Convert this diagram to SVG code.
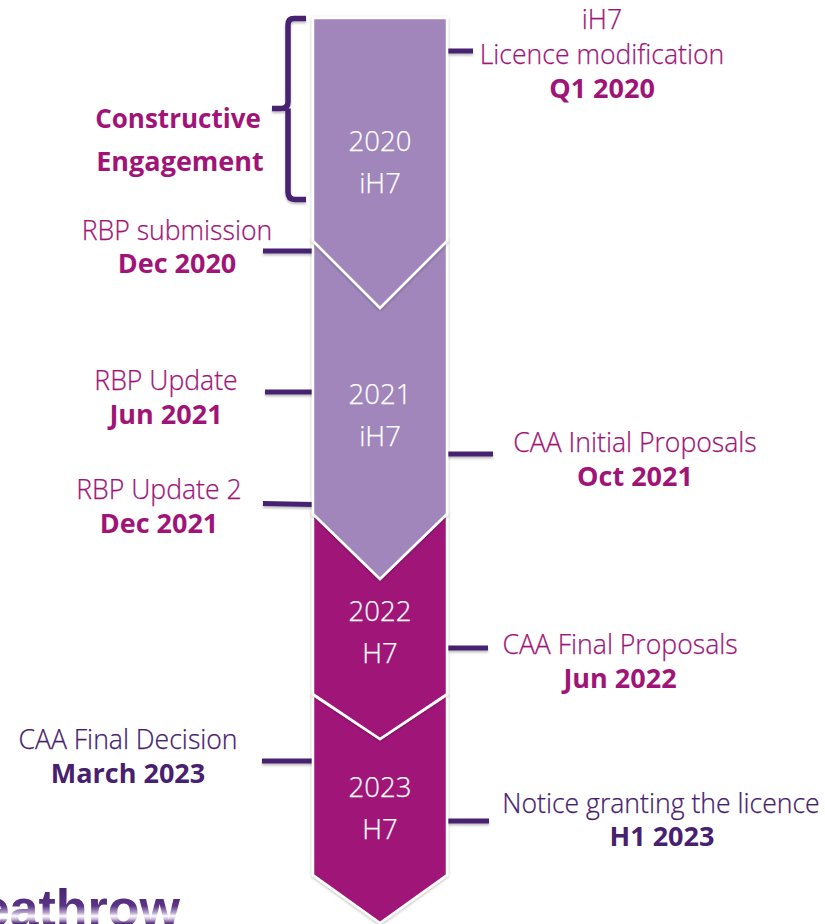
<svg xmlns="http://www.w3.org/2000/svg" width="825" height="924" viewBox="0 0 825 924">
<style>
text{font-family:"Open Sans","Noto Sans","Liberation Sans",sans-serif;text-anchor:middle}
.l{font-size:26.600px;font-weight:300;stroke-width:.25px}
.b{font-size:27px;font-weight:700}
.m{fill:#A01478}
.l.m{stroke:#A01478}
.d{fill:#47206F}
.l.d{stroke:#47206F}
.y{font-size:27.500px;font-weight:300;fill:#fff;stroke:#fff;stroke-width:.25px}
.c{fill:none;stroke:#47206F;stroke-width:5}
.s{stroke:#fff;stroke-width:2.5;stroke-linejoin:miter;filter:url(#sh)}
</style>
<defs>
<filter id="sh" x="-10%" y="-5%" width="120%" height="110%"><feDropShadow dx="0" dy="1" stdDeviation="1.5" flood-color="#000" flood-opacity=".3"/></filter>
<filter id="ls" x="-20%" y="-100%" width="140%" height="400%"><feDropShadow dx="0" dy="2" stdDeviation="1.2" flood-color="#000" flood-opacity=".25"/></filter>
<linearGradient id="lg" gradientUnits="userSpaceOnUse" x1="0" y1="884" x2="0" y2="924"><stop offset="0" stop-color="#47206F"/><stop offset=".55" stop-color="#5A3585"/><stop offset=".72" stop-color="#B8A4CE"/><stop offset=".8" stop-color="#fff"/><stop offset=".88" stop-color="#C9B8DA"/><stop offset="1" stop-color="#47206F"/></linearGradient>
</defs>
<rect width="825" height="924" fill="#fff"/>
<g id="connectors" filter="url(#ls)">
<path class="c" d="M448 51H473"/>
<path class="c" d="M306 18.500H294Q288 18.500 288 25V102Q288 108.500 281 108.500H272M288 108.500V192Q288 199.500 295 199.500H306" style="stroke-width:5.500"/>
<path class="c" d="M263 251H313"/>
<path class="c" d="M265 392H313"/>
<path class="c" d="M263 503.500L313 504.500"/>
<path class="c" d="M448 454H493"/>
<path class="c" d="M448 648H488"/>
<path class="c" d="M262 761H313"/>
<path class="c" d="M448 821H489"/>
</g>
<g id="node-2023"><path class="s" fill="#A01478" d="M313 695L380 739L447 695V875L380 923L313 875Z"/><text class="y" x="380" y="797">2023</text><text class="y" x="380" y="839">H7</text></g>
<g id="node-2022"><path class="s" fill="#A01478" d="M313 514L380 579L447 514V694L380 739L313 694Z"/><text class="y" x="380" y="621">2022</text><text class="y" x="380" y="663">H7</text></g>
<g id="node-2021"><path class="s" fill="#A086BB" d="M313 241L380 308L447 241V514L380 579L313 514Z"/><text class="y" x="380" y="404">2021</text><text class="y" x="380" y="446">iH7</text></g>
<g id="node-2020"><path class="s" fill="#A086BB" d="M313 18H447V241L380 308L313 241Z"/><text class="y" x="380" y="151">2020</text><text class="y" x="380" y="193">iH7</text></g>
<g id="label-constructive"><text class="b m" x="178" y="128" style="font-size:26px">Constructive</text><text class="b m" x="180" y="171">Engagement</text></g>
<g id="label-licence"><text class="l m" x="602" y="29">iH7</text><text class="l m" x="602" y="64">Licence modification</text><text class="b m" x="602" y="98">Q1 2020</text></g>
<g id="label-rbp-sub"><text class="l m" x="177" y="240">RBP submission</text><text class="b m" x="177" y="273">Dec 2020</text></g>
<g id="label-rbp-upd"><text class="l m" x="166" y="390">RBP Update</text><text class="b m" x="166" y="424">Jun 2021</text></g>
<g id="label-rbp-upd2"><text class="l m" x="159" y="499">RBP Update 2</text><text class="b m" x="159" y="533">Dec 2021</text></g>
<g id="label-caa-ip"><text class="l m" x="635" y="452">CAA Initial Proposals</text><text class="b m" x="635" y="486">Oct 2021</text></g>
<g id="label-caa-fp"><text class="l m" x="620" y="654">CAA Final Proposals</text><text class="b m" x="620" y="688">Jun 2022</text></g>
<g id="label-caa-fd"><text class="l d" x="128" y="749">CAA Final Decision</text><text class="b d" x="128" y="783">March 2023</text></g>
<g id="label-notice"><text class="l d" x="661" y="813">Notice granting the licence</text><text class="b d" x="662" y="846">H1 2023</text></g>
<g id="logo"><text x="180" y="926" style="text-anchor:end;font-family:'Liberation Sans',sans-serif;font-size:52px;font-weight:700" fill="url(#lg)">Heathrow</text></g>
</svg>
